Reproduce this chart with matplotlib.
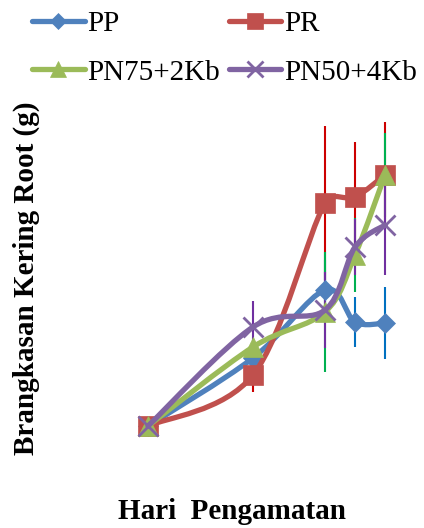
import matplotlib
matplotlib.use('Agg')
import numpy as np
import matplotlib.pyplot as plt
from matplotlib.path import Path
from matplotlib.patches import PathPatch
from matplotlib.lines import Line2D

plt.rcParams['font.family'] = ['Liberation Serif', 'DejaVu Serif']

# observation days
days = [14, 49, 73, 83, 93]

series = ['PP', 'PR', 'PN75+2Kb', 'PN50+4Kb']
pp = [0.10, 0.78, 1.46, 1.14, 1.13]
pr = [0.10, 0.61, 2.33, 2.39, 2.61]
pn75 = [0.10, 0.89, 1.24, 1.81, 2.61]
pn50 = [0.10, 1.09, 1.26, 1.89, 2.11]

pp_err = [0, 0.10, 0.30, 0.25, 0.36]
pr_err = [0, 0.17, 0.77, 0.55, 0.53]
pn75_err = [0, 0.05, 0.60, 0.37, 0.42]
pn50_err = [0, 0.26, 0.38, 0.28, 0.50]

values = [pp, pr, pn75, pn50]
errors = [pp_err, pr_err, pn75_err, pn50_err]
line_colors = ['#4F81BD', '#C0504D', '#9BBB59', '#8064A2']
err_colors = ['#0070C0', '#CC0000', '#00B050', '#7030A0']
markers = ['D', 's', '^', 'x']
msizes = [10, 14, 14, 14]


def smooth_path(ax, x, y):
    # smoothed line like the spreadsheet one, built in screen space
    tr = ax.transData
    pts = tr.transform(np.column_stack([x, y]).astype(float))
    n = len(pts)

    def handle(i, seg):
        d = (pts[min(i + 1, n - 1)] - pts[max(i - 1, 0)]) / 6.0
        L = np.hypot(*d)
        if L > 0.5 * seg:
            d = d * (0.5 * seg / L)
        return d

    verts = [pts[0]]
    codes = [Path.MOVETO]
    for i in range(n - 1):
        p1, p2 = pts[i], pts[i + 1]
        seg = np.hypot(*(p2 - p1))
        c1 = p1 + handle(i, seg)
        c2 = p2 - handle(i + 1, seg)
        verts += [c1, c2, p2]
        codes += [Path.CURVE4] * 3
    verts = tr.inverted().transform(np.array(verts))
    return Path(verts, codes)


fig = plt.figure(figsize=(4.24, 5.28), dpi=100)
ax = fig.add_axes([100 / 424, 58 / 528, 320 / 424, 370 / 528])
ax.set_xlim(-2, 104.67)
ax.set_ylim(-0.34, 3.36)
ax.axis('off')

for k in range(4):
    ax.errorbar(days, values[k], yerr=errors[k], fmt='none',
                ecolor=err_colors[k], elinewidth=1.5, capsize=0, zorder=1)

handles = []
for k in range(4):
    z = 3 + k
    patch = PathPatch(smooth_path(ax, days, values[k]), facecolor='none',
                      edgecolor=line_colors[k], lw=3.8, capstyle='round',
                      joinstyle='round', zorder=z)
    ax.add_patch(patch)
    mew = 2.0 if markers[k] == 'x' else 0.5
    ax.plot(days, values[k], linestyle='none', marker=markers[k],
            ms=msizes[k], color=line_colors[k], mec=line_colors[k],
            mew=mew, zorder=z + 0.5)
    handles.append(Line2D([], [], color=line_colors[k], lw=3.8,
                          solid_capstyle='round', marker=markers[k],
                          ms=msizes[k] - 2, mew=mew,
                          label=series[k]))

# legend fills by column, so reorder to get PP, PR on the first row
order = [0, 2, 1, 3]
fig.legend(handles=[handles[i] for i in order], ncol=2, loc='upper left',
           bbox_to_anchor=(32 / 424, 1 - 11 / 528), frameon=False,
           prop={'family': 'Liberation Serif', 'size': 21},
           handlelength=1.8, handletextpad=0.1,
           columnspacing=0.3, labelspacing=0.75, borderpad=0,
           borderaxespad=0)

fig.text(26 / 424, 1 - 278 / 528, 'Brangkasan Kering Root (g)',
         rotation=90, ha='center', va='center', fontsize=21,
         fontweight='bold')
fig.text(232 / 424, 9 / 528, 'Hari  Pengamatan', ha='center',
         va='baseline', fontsize=21, fontweight='bold')

fig.savefig('out.png', dpi=100)
